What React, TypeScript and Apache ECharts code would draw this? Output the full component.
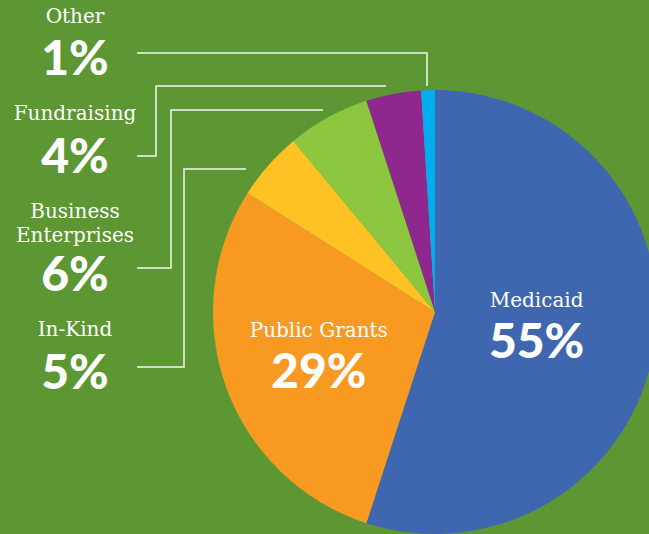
import React, { useEffect, useRef } from "react";
import * as echarts from "echarts";

const categories = ["Medicaid", "Public Grants", "In-Kind", "Business Enterprises", "Fundraising", "Other"];
const values = [55, 29, 5, 6, 4, 1];
const colors = ["#3F67B0", "#F89A21", "#FFC225", "#8DC63F", "#8E278E", "#00AEEF"];
const insideLabels = ["Medicaid", "Public Grants"];

// outside label blocks (name lines, percentage)
const outsideNames = [["Other"], ["Fundraising"], ["Business", "Enterprises"], ["In-Kind"]];
const outsidePcts = ["1%", "4%", "6%", "5%"];

const BG = "#5D9733";
const SERIF = "'DejaVu Serif', serif";
const SANS = "Lato, 'Open Sans', sans-serif";

export default function App() {
  const ref = useRef<HTMLDivElement>(null);
  useEffect(() => {
    if (!ref.current) return;
    const chart = echarts.init(ref.current, undefined, { renderer: "svg" });

    const nameY = [[16], [113], [211, 235], [329]];
    const pctY = [56, 154, 272, 370];
    const lines = [
      [[137, 53], [427, 53], [427, 86]],
      [[137, 156], [156, 156], [156, 86], [386, 86]],
      [[137, 268], [171, 268], [171, 110], [323, 110]],
      [[137, 367], [184, 367], [184, 169], [246, 169]],
    ];
    const graphics: any[] = [];
    outsideNames.forEach((names, i) => {
      names.forEach((n, j) => {
        graphics.push({
          type: "text",
          x: 75,
          y: nameY[i][j],
          style: {
            text: n,
            fill: "#fff",
            font: `20px ${SERIF}`,
            align: "center",
            verticalAlign: "middle",
            lineHeight: 20,
          },
        });
      });
      graphics.push({
        type: "text",
        x: 75,
        y: pctY[i],
        style: {
          text: outsidePcts[i],
          fill: "#fff",
          font: `900 48px ${SANS}`,
          align: "center",
          verticalAlign: "middle",
          lineHeight: 40,
        },
      });
      graphics.push({
        type: "polyline",
        shape: { points: lines[i] },
        style: { stroke: "rgba(255,255,255,0.92)", lineWidth: 1.5, fill: null },
      });
    });

    const offsets: Record<string, [number, number]> = {
      Medicaid: [-11, -1],
      "Public Grants": [-9, 8],
    };

    chart.setOption({
      animation: false,
      backgroundColor: BG,
      graphic: graphics,
      series: [
        {
          type: "pie",
          center: [435, 312],
          radius: [0, 222],
          startAngle: 90,
          clockwise: true,
          avoidLabelOverlap: false,
          itemStyle: { borderWidth: 0 },
          emphasis: { disabled: true },
          labelLine: { show: false },
          label: {
            show: true,
            position: "inside",
            formatter: (p: any) =>
              insideLabels.includes(p.name) ? `{n|${p.name}}\n{p|${p.value}%}` : "",
            rich: {
              n: { fontFamily: SERIF, fontSize: 20, color: "#fff", lineHeight: 22, align: "center" },
              p: { fontFamily: SANS, fontWeight: 900, fontSize: 48, color: "#fff", lineHeight: 58, align: "center" },
            },
          },
          labelLayout: (params: any) => {
            const name = categories[params.dataIndex];
            const o = offsets[name];
            return o ? { dx: o[0], dy: o[1] } : {};
          },
          data: categories.map((c, i) => ({
            name: c,
            value: values[i],
            itemStyle: { color: colors[i] },
          })),
        },
      ],
    });
    return () => chart.dispose();
  }, []);
  return (
    <div
      ref={ref}
      style={{ position: "fixed", left: 0, top: 0, width: 649, height: 534 }}
    />
  );
}
